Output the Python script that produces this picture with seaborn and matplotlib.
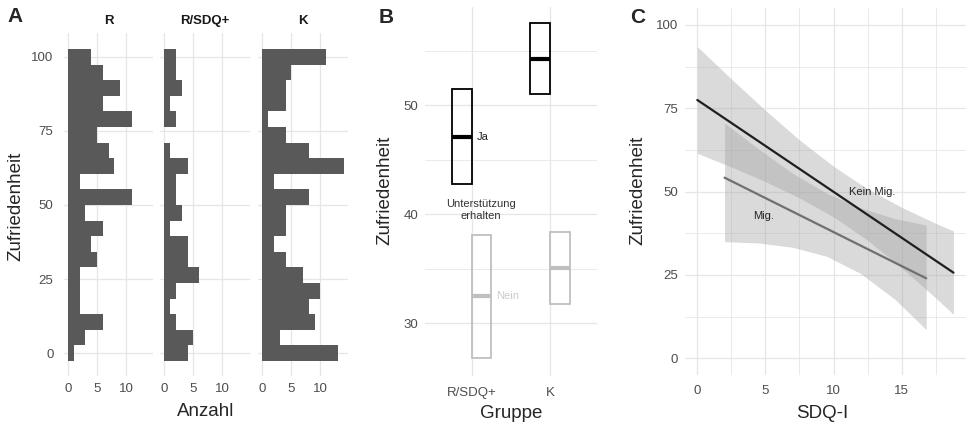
import numpy as np
import matplotlib
matplotlib.use("Agg")
import matplotlib.pyplot as plt
import seaborn as sns
from matplotlib.ticker import MultipleLocator

# ---- data: panel A (histograms, bins from 0 up to 100) ----
zuf_bins = np.linspace(0, 100, 20)  # bin centres
anzahl_r = [1, 3, 6, 2, 2, 2, 5, 4, 6, 3, 11, 2, 8, 7, 5, 11, 6, 9, 6, 4]
anzahl_rsdq = [4, 5, 2, 1, 2, 6, 4, 4, 1, 3, 2, 2, 4, 1, 0, 2, 1, 3, 2, 2]
anzahl_k = [13, 3, 9, 8, 10, 7, 4, 2, 4, 4, 8, 2, 14, 8, 4, 1, 4, 4, 5, 11]
facetten = ["R", "R/SDQ+", "K"]

# ---- data: panel B (mean + CI per group / support) ----
gruppen = ["R/SDQ+", "K"]
ja_mean = [47.1, 54.2]
ja_low = [42.8, 51.0]
ja_high = [51.5, 57.5]
nein_mean = [32.45, 35.1]
nein_low = [26.8, 31.8]
nein_high = [38.1, 38.35]

# ---- data: panel C (regression lines + confidence bands) ----
sdq_kein = [0, 18.8]
zuf_kein = [77.5, 25.7]
band_kein_x = [0, 2.5, 5, 7.5, 10, 12.5, 15, 17.5, 18.8]
band_kein_hi = [93.5, 83.8, 74.4, 65.5, 57.6, 50.8, 45.3, 40.5, 38.2]
band_kein_lo = [61.5, 57.4, 53.0, 48.1, 42.4, 35.4, 27.1, 18.1, 13.2]

sdq_mig = [2, 16.8]
zuf_mig = [54.2, 24.0]
band_mig_x = [2, 4.5, 7, 9.5, 12, 14.5, 16.8]
band_mig_hi = [70.6, 62.8, 55.5, 49.5, 45.1, 41.9, 40.0]
band_mig_lo = [35.0, 34.6, 33.3, 30.6, 25.4, 17.7, 8.6]

# ---- style ----
GRID = "#e9e5e5"
sns.set_theme(style="whitegrid", rc={
    "grid.color": GRID,
    "grid.linewidth": 0.9,
    "axes.edgecolor": "white",
    "axes.linewidth": 0,
})
plt.rcParams["font.family"] = ["Liberation Sans", "DejaVu Sans"]

W, H = 966, 426
fig = plt.figure(figsize=(W / 100, H / 100), dpi=100)


def px_axes(l, t, r, b):
    return fig.add_axes([l / W, 1 - b / H, (r - l) / W, (b - t) / H])


def fx(x):
    return x / W


def fy(y):
    return 1 - y / H


TICK_COL = "#4d4d4d"
TICK_SIZE = 9.5
TITLE_SIZE = 13.5
NOTE_SIZE = 8


def base_style(ax, xpad=6, ypad=4.5):
    ax.set_axisbelow(True)
    for s in ax.spines.values():
        s.set_visible(False)
    ax.tick_params(length=0, labelsize=TICK_SIZE, labelcolor=TICK_COL)
    ax.tick_params(axis="x", pad=xpad)
    ax.tick_params(axis="y", pad=ypad)


# ---- panel A ----
lefts = [63.9, 160.3, 258.3]
width = 14.7 + 0.7
bw = 100 / 19
for i, (name, counts) in enumerate(zip(facetten, [anzahl_r, anzahl_rsdq, anzahl_k])):
    l = lefts[i]
    ax = px_axes(l, 33, l + width * 5.8, 375.5)
    sns.histplot(y=zuf_bins, weights=counts, bins=20,
                 binrange=(-bw / 2, 100 + bw / 2), color="#595959",
                 alpha=1, linewidth=0, ax=ax)
    ax.set_xlim(-0.7, 14.7)
    ax.set_ylim(-7.5, 108)
    ax.set_xticks([0, 5, 10])
    ax.set_yticks([0, 25, 50, 75, 100])
    base_style(ax, xpad=5.5, ypad=7.5)
    ax.set_xlabel("")
    ax.set_ylabel("")
    if i > 0:
        ax.tick_params(labelleft=False)
    fig.text(fx(l + width * 5.8 / 2), fy(21), name, ha="center", va="center",
             fontsize=9.5, fontweight="bold", color="#1a1a1a")

fig.text(fx(15), fy(17), "A", ha="center", va="center", fontsize=15, fontweight="bold")
fig.text(fx(16), fy(206), "Zufriedenheit", rotation=90, ha="center", va="center",
         fontsize=TITLE_SIZE)
fig.text(fx(205.5), fy(412), "Anzahl", ha="center", va="center", fontsize=TITLE_SIZE)

# ---- panel B ----
axb = px_axes(424.7, 7, 597, 375.5)
pos = np.array([1, 2])
off, bwid = 0.125, 0.25
axb.bar(pos - off, np.subtract(ja_high, ja_low), bottom=ja_low, width=bwid,
        fill=False, edgecolor="black", linewidth=1.3)
axb.hlines(ja_mean, pos - off - bwid / 2, pos - off + bwid / 2, color="black", linewidth=3.0)
axb.bar(pos + off, np.subtract(nein_high, nein_low), bottom=nein_low, width=bwid,
        fill=False, edgecolor="#bfbfbf", linewidth=1.3)
axb.hlines(nein_mean, pos + off - bwid / 2, pos + off + bwid / 2, color="#bfbfbf", linewidth=3.0)
axb.set_xlim(0.4, 2.6)
axb.set_ylim(25.2, 59.0)
axb.set_xticks(pos)
axb.set_xticklabels(gruppen)
axb.set_yticks([30, 40, 50])
axb.yaxis.set_minor_locator(MultipleLocator(5))
axb.grid(which="minor", axis="y", color=GRID, linewidth=0.6)
base_style(axb, xpad=8)
axb.text(1.07, ja_mean[0], "Ja", ha="left", va="center", fontsize=NOTE_SIZE, color="#222222")
axb.text(1.31, nein_mean[0], "Nein", ha="left", va="center", fontsize=NOTE_SIZE, color="#cccccc")
axb.text(1.12, 40.4, "Unterstützung\nerhalten", ha="center", va="center", fontsize=NOTE_SIZE,
         color="#333333", linespacing=1.3)

fig.text(fx(386), fy(17.5), "B", ha="center", va="center", fontsize=15, fontweight="bold")
fig.text(fx(385), fy(190), "Zufriedenheit", rotation=90, ha="center", va="center",
         fontsize=TITLE_SIZE)
fig.text(fx(511), fy(413), "Gruppe", ha="center", va="center", fontsize=TITLE_SIZE)

# ---- panel C ----
axc = px_axes(684.5, 8.3, 966, 375)
axc.fill_between(band_kein_x, band_kein_lo, band_kein_hi, color="#a0a0a0", alpha=0.38, linewidth=0)
axc.fill_between(band_mig_x, band_mig_lo, band_mig_hi, color="#a0a0a0", alpha=0.38, linewidth=0)
sns.lineplot(x=sdq_mig, y=zuf_mig, color="#707070", linewidth=1.6, ax=axc)
sns.lineplot(x=sdq_kein, y=zuf_kein, color="#1f1f1f", linewidth=1.6, ax=axc)
axc.set_xlim(-0.94, 19.72)
axc.set_ylim(-5, 105)
axc.set_xticks([0, 5, 10, 15])
axc.set_yticks([0, 25, 50, 75, 100])
axc.xaxis.set_minor_locator(MultipleLocator(2.5))
axc.yaxis.set_minor_locator(MultipleLocator(12.5))
axc.grid(which="minor", color=GRID, linewidth=0.6)
base_style(axc, xpad=7)
axc.set_xlabel("")
axc.set_ylabel("")
axc.text(12.87, 50.0, "Kein Mig.", ha="center", va="center", fontsize=NOTE_SIZE, color="#222222")
axc.text(4.89, 42.7, "Mig.", ha="center", va="center", fontsize=NOTE_SIZE, color="#222222")

fig.text(fx(637.5), fy(17.5), "C", ha="center", va="center", fontsize=15, fontweight="bold")
fig.text(fx(637.5), fy(190), "Zufriedenheit", rotation=90, ha="center", va="center",
         fontsize=TITLE_SIZE)
fig.text(fx(822), fy(413), "SDQ-I", ha="center", va="center", fontsize=TITLE_SIZE)

fig.savefig("out.png", dpi=100)
